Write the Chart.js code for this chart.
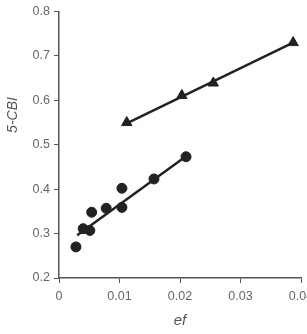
<!DOCTYPE html>
<html>
<head>
<meta charset="utf-8">
<script src="https://cdn.jsdelivr.net/npm/chart.js@4"></script>
<style>
  html, body { margin: 0; padding: 0; overflow: hidden; background: #fff; }
  #wrap { width: 330px; height: 334px; }
</style>
</head>
<body>
<div id="wrap"><canvas id="cbiChart" width="330" height="334"></canvas></div>
<script>
  // circles (lower group)
  const circleX = [0.0028, 0.0040, 0.0051, 0.0054, 0.0078, 0.0104, 0.0104, 0.0157, 0.0210];
  const circleY = [0.270, 0.311, 0.307, 0.348, 0.357, 0.402, 0.359, 0.423, 0.473];
  // triangles (upper group)
  const triX = [0.0112, 0.0203, 0.0255, 0.0387];
  const triY = [0.550, 0.611, 0.639, 0.730];
  // fitted lines (end points)
  const circleFitX = [0.0030, 0.0210];
  const circleFitY = [0.296, 0.474];
  const triFitX = [0.0112, 0.0387];
  const triFitY = [0.548, 0.730];

  const xTicks = [0, 0.01, 0.02, 0.03, 0.04];
  const yTicks = [0.2, 0.3, 0.4, 0.5, 0.6, 0.7, 0.8];

  const pts = (xs, ys) => xs.map((x, i) => ({ x: x, y: ys[i] }));
  const ink = '#222';
  const grey = '#555';

  // y title sits above the middle of the axis in the original
  const yTitle = {
    id: 'yTitle',
    afterDraw(chart) {
      const ctx = chart.ctx;
      ctx.save();
      ctx.translate(13, 115);
      ctx.rotate(-Math.PI / 2);
      ctx.fillStyle = '#555';
      ctx.font = 'italic 14px "Liberation Sans"';
      ctx.textAlign = 'center';
      ctx.textBaseline = 'middle';
      ctx.fillText('5-CBI', 0, 0);
      ctx.restore();
    }
  };

  new Chart(document.getElementById('cbiChart'), {
    type: 'scatter',
    data: {
      datasets: [
        {
          type: 'line', data: pts(circleFitX, circleFitY),
          borderColor: ink, borderWidth: 2.5, pointRadius: 0, fill: false
        },
        {
          type: 'line', data: pts(triFitX, triFitY),
          borderColor: ink, borderWidth: 2.5, pointRadius: 0, fill: false
        },
        {
          data: pts(circleX, circleY),
          pointStyle: 'circle', pointRadius: 5,
          backgroundColor: ink, borderColor: ink
        },
        {
          data: pts(triX, triY),
          pointStyle: 'triangle', pointRadius: 6,
          backgroundColor: ink, borderColor: ink
        }
      ]
    },
    options: {
      responsive: false,
      animation: false,
      layout: { padding: { top: 10, right: 29, left: 0, bottom: 0 } },
      plugins: { legend: { display: false }, tooltip: { enabled: false } },
      scales: {
        x: {
          type: 'linear', min: 0, max: 0.04,
          afterBuildTicks: s => { s.ticks = xTicks.map(v => ({ value: v })); },
          ticks: { color: '#666', font: { family: 'Liberation Sans', size: 12.5 }, padding: 6,
                   callback: v => String(v) },
          grid: { drawOnChartArea: false, drawTicks: true, tickLength: 5, color: grey },
          border: { color: grey, width: 1.5 },
          title: { display: true, text: 'ef', color: '#555',
                   font: { family: 'Liberation Sans', size: 15, style: 'italic' }, padding: { top: 2 } }
        },
        y: {
          type: 'linear', min: 0.2, max: 0.8,
          afterBuildTicks: s => { s.ticks = yTicks.map(v => ({ value: v })); },
          afterFit: s => { s.width = 59; },
          ticks: { color: '#666', font: { family: 'Liberation Sans', size: 12.5 }, padding: 4,
                   callback: v => v.toFixed(1) },
          grid: { drawOnChartArea: false, drawTicks: true, tickLength: 5, color: grey },
          border: { color: grey, width: 1.5 },
          title: { display: false }
        }
      }
    },
    plugins: [yTitle]
  });
</script>
</body>
</html>
